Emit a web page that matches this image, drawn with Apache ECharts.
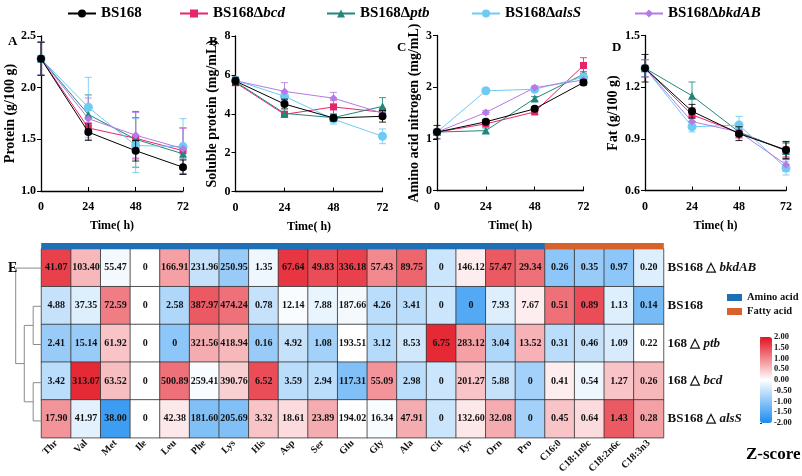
<!DOCTYPE html>
<html><head><meta charset="utf-8">
<script src="https://cdn.jsdelivr.net/npm/echarts@6/dist/echarts.min.js"></script>
<style>html,body{margin:0;padding:0;background:#fff}#c{width:802px;height:476px}</style>
</head><body><div id="c"></div>
<script>
// ---------- data ----------
const times = [0, 24, 48, 72];
const strains = ['BS168', 'BS168Δbcd', 'BS168Δptb', 'BS168ΔalsS', 'BS168ΔbkdAB'];
// panel A: protein (g/100 g), order = strains
const proteinMean = [[2.28,1.57,1.39,1.23],[2.28,1.61,1.51,1.39],[2.28,1.74,1.50,1.36],[2.28,1.81,1.44,1.43],[2.28,1.70,1.54,1.41]];
const proteinSD   = [[0.16,0.08,0.10,0.07],[0.16,0.05,0.20,0.22],[0.16,0.19,0.27,0.05],[0.16,0.29,0.26,0.27],[0.16,0.20,0.22,0.20]];
// panel B: soluble protein (mg/mL)
const solubleMean = [[5.68,4.50,3.78,3.87],[5.60,3.97,4.35,4.08],[5.65,4.02,3.80,4.38],[5.72,4.90,3.72,2.84],[5.70,5.15,4.80,4.03]];
const solubleSD   = [[0.20,0.25,0.15,0.30],[0.15,0.15,0.35,0.20],[0.15,0.10,0.15,0.45],[0.15,0.20,0.25,0.38],[0.10,0.45,0.30,0.20]];
// panel C: amino acid nitrogen (mg/mL)
const aanMean = [[1.13,1.33,1.58,2.09],[1.13,1.29,1.52,2.42],[1.13,1.16,1.78,2.25],[1.13,1.93,1.96,2.19],[1.13,1.51,1.99,2.14]];
const aanSD   = [[0.13,0.04,0.04,0.05],[0.05,0.04,0.04,0.15],[0.05,0.05,0.04,0.05],[0.05,0.04,0.04,0.05],[0.05,0.04,0.04,0.05]];
// panel D: fat (g/100 g)
const fatMean = [[1.31,1.06,0.93,0.835],[1.31,1.04,0.935,0.835],[1.31,1.15,0.94,0.83],[1.31,0.97,0.98,0.73],[1.31,1.00,0.94,0.75]];
const fatSD   = [[0.08,0.04,0.04,0.05],[0.05,0.04,0.03,0.04],[0.05,0.08,0.03,0.05],[0.05,0.03,0.05,0.04],[0.05,0.03,0.03,0.04]];

// panel E: heatmap
const compounds = ['Thr','Val','Met','Ile','Leu','Phe','Lys','His','Asp','Ser','Glu','Gly','Ala','Cit','Tyr','Orn','Pro','C16:0','C18:1n9c','C18:2n6c','C18:3n3'];
const compoundGroup = ['Amino acid','Amino acid','Amino acid','Amino acid','Amino acid','Amino acid','Amino acid','Amino acid','Amino acid','Amino acid','Amino acid','Amino acid','Amino acid','Amino acid','Amino acid','Amino acid','Amino acid','Fatty acid','Fatty acid','Fatty acid','Fatty acid'];
const heatRows = ['BS168 △ bkdAB', 'BS168', '168 △ ptb', '168 △ bcd', 'BS168 △ alsS'];
const rawValues = [
  [41.07,103.40,55.47,0,166.91,231.96,250.95,1.35,67.64,49.83,336.18,57.43,89.75,0,146.12,57.47,29.34,0.26,0.35,0.97,0.20],
  [4.88,37.35,72.59,0,2.58,387.97,474.24,0.78,12.14,7.88,187.66,4.26,3.41,0,0,7.93,7.67,0.51,0.89,1.13,0.14],
  [2.41,15.14,61.92,0,0,321.56,418.94,0.16,4.92,1.08,193.51,3.12,8.53,6.75,283.12,3.04,13.52,0.31,0.46,1.09,0.22],
  [3.42,313.07,63.52,0,500.89,259.41,390.76,6.52,3.59,2.94,117.31,55.09,2.98,0,201.27,5.88,0,0.41,0.54,1.27,0.26],
  [17.90,41.97,38.00,0,42.38,181.60,205.69,3.32,18.61,23.89,194.02,16.34,47.91,0,132.60,32.08,0,0.45,0.64,1.43,0.28]
];
const zScores = [
  [1.6,0.6,-0.1,0,0.8,-0.5,-0.9,-0.15,1.7,1.5,1.6,1.0,1.3,-0.45,0.15,1.4,1.2,-1.0,-0.9,-1.0,-0.3],
  [-0.5,-0.3,1.1,0,-0.7,1.4,1.2,-0.5,-0.05,-0.2,-0.1,-0.6,-0.6,-0.45,-1.5,-0.3,0.15,1.2,1.5,-0.3,-1.2],
  [-0.9,-0.9,0.5,0,-1.0,0.7,0.6,-0.9,-0.5,-0.8,0,-0.65,-0.4,1.8,0.8,-0.7,0.65,-0.6,-0.5,-0.35,0],
  [-0.6,1.8,0.55,0,1.2,-0.05,0.4,1.5,-0.6,-0.6,-1.1,0.9,-0.6,-0.45,0.5,-0.5,-0.8,0.15,-0.15,0.5,0.6],
  [0.9,-0.25,-1.7,0,0.2,-1.1,-1.1,0.5,0.3,0.7,0,-0.05,0.7,-0.45,0.2,0.7,-0.8,0.5,0.3,1.4,0.8]
];
// dendrogram merges: [rowA, rowB, height, heightA, heightB]
const dendroMerges = [[1,2,1.0,0,0],[3,4,1.0,0,0],[1.5,3.5,2.07,1.0,1.0],[0,2.5,3.1,0,2.07]];

// ---------- styles ----------
const FF = "'Liberation Serif','Times New Roman',serif";
const colors = ['#000000','#e8246c','#21877a','#6fcbf2','#b47ae6'];
const symbols = ['circle','rect','triangle','circle','diamond'];
const symSizes = [8,7,8,9,8];
const groupColors = {'Amino acid':'#1f6fb6', 'Fatty acid':'#d8622c'};

const panels = [
  {mean: proteinMean, sd: proteinSD, grid:{left:41, top:36, width:142, height:155}, min:1.0, max:2.5, interval:0.5, name:'Protein (g/100 g)', nameGap:24, fmt:v=>v.toFixed(1), letter:'A', lx:3, ly:30},
  {mean: solubleMean, sd: solubleSD, grid:{left:235.5, top:36, width:147, height:155.5}, min:0, max:8, interval:2, name:'Soluble protein (mg/mL)', nameGap:16, fmt:v=>String(v), letter:'B', lx:204, ly:30},
  {mean: aanMean, sd: aanSD, grid:{left:437, top:35.5, width:146.5, height:155}, min:0, max:3, interval:1, name:'Amino acid nitrogen (mg/mL)', nameGap:16, fmt:v=>String(v), letter:'C', lx:392, ly:36},
  {mean: fatMean, sd: fatSD, grid:{left:645, top:35.5, width:141, height:155}, min:0.6, max:1.5, interval:0.3, name:'Fat (g/100 g)', nameGap:25, fmt:v=>v.toFixed(1), letter:'D', lx:607, ly:36}
];

const grid = [], xAxis = [], yAxis = [], series = [], title = [];
panels.forEach((p, i) => {
  grid.push(p.grid);
  xAxis.push({type:'value', gridIndex:i, min:0, max:72, interval:24,
    name:'Time( h)', nameLocation:'middle', nameGap:29,
    nameTextStyle:{fontFamily:FF, fontWeight:'bold', fontSize:12, color:'#000'},
    axisLine:{lineStyle:{color:'#000', width:1.3}}, axisTick:{inside:true, length:4, lineStyle:{color:'#000'}},
    splitLine:{show:false}, axisLabel:{fontFamily:FF, fontWeight:'bold', fontSize:12, color:'#000', margin:10}});
  yAxis.push({type:'value', gridIndex:i, min:p.min, max:p.max, interval:p.interval,
    name:p.name, nameLocation:'middle', nameGap:p.nameGap,
    nameTextStyle:{fontFamily:FF, fontWeight:'bold', fontSize:14, color:'#000'},
    axisLine:{show:true, lineStyle:{color:'#000', width:1.3}}, axisTick:{show:true, length:4, lineStyle:{color:'#000'}},
    splitLine:{show:false}, axisLabel:{fontFamily:FF, fontWeight:'bold', fontSize:12, color:'#000', margin:5, formatter:p.fmt}});
  title.push({text:p.letter, left:p.lx, top:p.ly, textStyle:{fontFamily:FF, fontWeight:'bold', fontSize:13, color:'#000'}});
});
// line series first (legend icons)
const order = [1,2,3,4,0];
panels.forEach((p, i) => {
  order.forEach(s => {
    series.push({type:'line', name:strains[s], xAxisIndex:i, yAxisIndex:i,
      data: times.map((t,k)=>[t, p.mean[s][k]]),
      symbol:symbols[s], symbolSize:symSizes[s], color:colors[s],
      lineStyle:{width:1, color:colors[s]}, itemStyle:{color:colors[s]}, z: s===0?6:4});
  });
});
panels.forEach((p, i) => {
  order.forEach(s => {
    series.push({type:'custom', name:strains[s], xAxisIndex:i, yAxisIndex:i,
      data: times.map((t,k)=>[t, p.mean[s][k]-p.sd[s][k], p.mean[s][k]+p.sd[s][k]]),
      encode:{x:0, y:[1,2]}, z: s===0?5:3, silent:true,
      renderItem:(params, api) => {
        const x = api.value(0);
        const a = api.coord([x, api.value(1)]), b = api.coord([x, api.value(2)]);
        const st = {stroke:colors[s], lineWidth:1, opacity:0.85};
        return {type:'group', children:[
          {type:'line', shape:{x1:a[0], y1:a[1], x2:b[0], y2:b[1]}, style:st},
          {type:'line', shape:{x1:a[0]-3.5, y1:a[1], x2:a[0]+3.5, y2:a[1]}, style:st},
          {type:'line', shape:{x1:b[0]-3.5, y1:b[1], x2:b[0]+3.5, y2:b[1]}, style:st}
        ]};
      }});
  });
});

// heatmap grid (4), annotation (5), dendrogram (6), colorbar axis (7)
grid.push({left:41.5, top:249, width:622, height:191});
grid.push({left:41.5, top:243, width:622, height:6});
grid.push({left:15.7, top:249, width:25.8, height:191});
grid.push({left:760, top:337, width:12, height:86});

xAxis.push({type:'category', gridIndex:4, data:compounds, axisLine:{show:false}, axisTick:{show:false},
  axisLabel:{rotate:45, interval:0, fontFamily:FF, fontWeight:'bold', fontSize:10, color:'#111', margin:4}});
yAxis.push({type:'category', gridIndex:4, data:heatRows, inverse:true, position:'right',
  axisLine:{show:false}, axisTick:{show:false},
  axisLabel:{margin:4, formatter:v=>{const m=v.split(' △ '); return m.length>1?'{b|'+m[0]+' △ }{i|'+m[1]+'}':'{b|'+v+'}';},
    rich:{b:{fontFamily:FF, fontWeight:'bold', fontSize:13, color:'#111'}, i:{fontFamily:FF, fontWeight:'bold', fontStyle:'italic', fontSize:13, color:'#111'}}}});
xAxis.push({type:'category', gridIndex:5, data:compounds, show:false});
yAxis.push({type:'value', gridIndex:5, min:0, max:1, show:false});
xAxis.push({type:'value', gridIndex:6, min:0, max:3.1, inverse:true, show:false});
yAxis.push({type:'value', gridIndex:6, min:-0.5, max:4.5, inverse:true, show:false});
xAxis.push({type:'value', gridIndex:7, show:false});
yAxis.push({type:'value', gridIndex:7, min:-2, max:2, interval:0.5, position:'right',
  axisLine:{show:false}, axisTick:{show:true, length:2, lineStyle:{color:'#333'}}, splitLine:{show:false},
  axisLabel:{fontFamily:FF, fontWeight:'bold', fontSize:8.5, color:'#111', margin:2, formatter:v=>v.toFixed(2)}});

const heatData = [];
heatRows.forEach((r, ri) => compounds.forEach((c, ci) => heatData.push([ci, ri, zScores[ri][ci], rawValues[ri][ci]])));
const heatIndex = series.length;
series.push({type:'heatmap', xAxisIndex:4, yAxisIndex:4, data:heatData,
  itemStyle:{borderColor:'#333', borderWidth:0.8},
  label:{show:true, fontFamily:FF, fontWeight:'bold', fontSize:10, color:'#111',
    formatter:p=>{const v=p.data[3]; return v===0?'0':v.toFixed(2);}}});
// annotation bar (group of each compound)
['Amino acid','Fatty acid'].forEach(g => {
  series.push({type:'custom', name:g, xAxisIndex:5, yAxisIndex:5, silent:true,
    itemStyle:{color:groupColors[g]},
    data: compounds.map((c,i)=>compoundGroup[i]===g?[i,1]:null).filter(d=>d),
    encode:{x:0, y:1},
    renderItem:(params, api) => {
      const top = api.coord([api.value(0), 1]);
      const bot = api.coord([api.value(0), 0]);
      const w = api.size([1, 0])[0];
      return {type:'rect', shape:{x:top[0]-w/2-0.3, y:top[1], width:w+0.6, height:bot[1]-top[1]},
        style:{fill:groupColors[g]}};
    }});
});
dendroMerges.forEach(m => {
  series.push({type:'line', xAxisIndex:6, yAxisIndex:6, symbol:'none', silent:true,
    lineStyle:{color:'#8a8a8a', width:1},
    data:[[m[3], m[0]], [m[2], m[0]], [m[2], m[1]], [m[4], m[1]]]});
});

title.push({text:'E', left:3, top:256, textStyle:{fontFamily:FF, fontWeight:'bold', fontSize:14, color:'#000'}});
title.push({text:'Z-score', left:741, top:441, textStyle:{fontFamily:FF, fontWeight:'bold', fontSize:17, color:'#000'}});

const legendLefts = [62, 174, 321, 466, 629];
const legends = strains.map((s, i) => ({
  data:[s], left:legendLefts[i], top:1, itemWidth:28, itemHeight:10, itemGap:5,
  formatter:n=>{const m=n.split('Δ'); return m.length>1?'{b|'+m[0]+'Δ}{i|'+m[1]+'}':'{b|'+n+'}';},
  textStyle:{rich:{b:{fontFamily:FF, fontWeight:'bold', fontSize:15, color:'#000'}, i:{fontFamily:FF, fontWeight:'bold', fontStyle:'italic', fontSize:15, color:'#000'}}}
}));
legends.push({data:[{name:'Amino acid', itemStyle:{color:groupColors['Amino acid']}}, {name:'Fatty acid', itemStyle:{color:groupColors['Fatty acid']}}],
  orient:'vertical', left:727, top:292, icon:'rect',
  itemWidth:15, itemHeight:7, itemGap:3, padding:0,
  textStyle:{fontFamily:FF, fontWeight:'bold', fontSize:10.5, color:'#111'}});

const option = {
  animation:false, backgroundColor:'#fff',
  title, legend:legends, grid, xAxis, yAxis, series,
  visualMap:[{type:'continuous', min:-2, max:2, dimension:2, seriesIndex:heatIndex, calculable:false,
    left:760, top:337, itemWidth:12, itemHeight:86, padding:0, text:null, showLabel:false,
    inRange:{color:['#1a8cf0','#ffffff','#e3121f']}}]
};
const chart = echarts.init(document.getElementById('c'), null, {renderer:'canvas'});
chart.setOption(option);
</script></body></html>
